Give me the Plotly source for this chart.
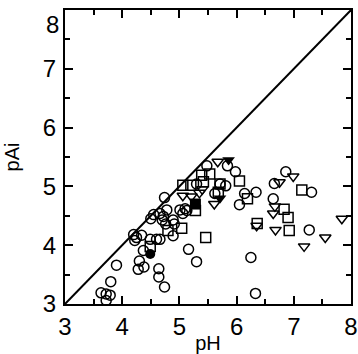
import plotly.graph_objects as go

# open circles
circ_x = [3.63, 3.72, 3.79, 3.72, 3.80, 3.90, 4.22, 4.25, 4.34, 4.30, 4.28, 4.38, 4.37, 4.50, 4.49, 4.60,
          4.66, 4.64, 4.64, 4.74, 4.74, 4.66, 4.72, 4.78, 4.70, 4.76, 4.89, 4.91, 4.89, 5.01, 5.06, 5.13,
          5.16, 5.30, 5.30, 5.48, 5.62, 5.71, 5.81, 5.84, 5.98, 6.05, 6.14, 6.25, 6.34, 6.33, 6.64, 6.66,
          6.86, 7.31, 7.27, 4.20, 4.55, 5.10]
circ_y = [3.19, 3.17, 3.15, 3.06, 3.38, 3.66, 4.08, 4.13, 4.17, 3.73, 3.59, 3.63, 3.91, 4.45, 4.10, 4.10,
          4.10, 3.60, 3.46, 3.29, 4.81, 4.54, 4.49, 4.60, 4.43, 4.36, 4.43, 4.36, 4.16, 4.60, 4.54, 4.59,
          3.93, 3.72, 5.04, 5.35, 4.88, 5.04, 5.01, 5.35, 5.25, 4.69, 4.88, 3.79, 4.90, 3.18, 4.79, 5.05,
          5.25, 4.90, 4.26, 4.18, 4.52, 4.62]

# open squares
sq_x = [5.06, 5.20, 5.39, 5.53, 5.42, 5.04, 4.49, 4.80, 5.28, 5.46, 5.71, 6.05, 6.19, 6.36, 6.83, 6.90,
        6.92, 7.14, 5.68]
sq_y = [5.02, 5.02, 5.19, 5.21, 5.08, 4.29, 3.98, 4.25, 4.59, 4.13, 5.04, 5.09, 4.79, 4.37, 4.61, 4.47,
        4.25, 4.94, 4.90]

# open down-triangles
tri_x = [5.06, 5.21, 5.35, 5.67, 5.61, 6.75, 6.99, 6.64, 6.68, 6.35, 7.18, 7.55, 7.84, 6.67, 5.40]
tri_y = [4.84, 4.83, 4.89, 5.42, 4.70, 5.07, 5.17, 4.54, 4.26, 4.33, 3.98, 4.13, 4.45, 4.66, 4.95]

# filled markers
fsq_x = [5.28]
fsq_y = [4.70]
fci_x = [4.49]
fci_y = [3.85]
ftr_x = [5.71, 5.86]
ftr_y = [4.80, 5.45]

line_x = [3, 8]
line_y = [3, 8]

y_tickvals = [3, 4, 5, 6, 7]
y_ticktext = ["3", "4", "5", "6", "7"]
y_top_label = "8"

FONT = "Liberation Sans, Arial"

fig = go.Figure()
fig.add_trace(go.Scatter(x=line_x, y=line_y, mode="lines", line=dict(color="black", width=2), cliponaxis=False))
for xs, ys, sym, sz in [(circ_x, circ_y, "circle-open", 10), (sq_x, sq_y, "square-open", 10),
                        (tri_x, tri_y, "triangle-down-open", 10)]:
    fig.add_trace(go.Scatter(x=xs, y=ys, mode="markers",
                             marker=dict(symbol=sym, size=sz, color="black", line=dict(width=1.5))))
fig.add_trace(go.Scatter(x=fsq_x, y=fsq_y, mode="markers", marker=dict(symbol="square", size=11, color="black")))
fig.add_trace(go.Scatter(x=fci_x, y=fci_y, mode="markers", marker=dict(symbol="circle", size=10, color="black")))
fig.add_trace(go.Scatter(x=ftr_x, y=ftr_y, mode="markers", marker=dict(symbol="triangle-down", size=11, color="black")))

axis_common = dict(
    range=[3, 8], ticks="inside", ticklen=8, tickwidth=1.5, tickcolor="black",
    showline=True, linecolor="black", linewidth=2, mirror="allticks", showgrid=False, zeroline=False,
    tickfont=dict(family=FONT, size=24, color="black"), automargin=False, ticklabeloverflow="allow",
    minor=dict(ticks="inside", ticklen=5, tickwidth=1.5, tickcolor="black", dtick=0.5, tick0=3, showgrid=False),
)
fig.update_layout(
    width=358, height=354, showlegend=False,
    margin=dict(l=65, r=7, t=10, b=50),
    plot_bgcolor="white", paper_bgcolor="white",
    xaxis=dict(axis_common, dtick=1, tick0=3, ticklabelstandoff=0,
               title=dict(text="pH", font=dict(family=FONT, size=20, color="black"), standoff=0)),
    yaxis=dict(axis_common, tickmode="array", tickvals=y_tickvals, ticktext=y_ticktext, ticklabelstandoff=2,
               title=dict(text="pAi", font=dict(family=FONT, size=20, color="black"), standoff=18)),
    annotations=[dict(text=y_top_label, xref="paper", yref="y", x=0, y=8, xanchor="right", yanchor="top",
                      xshift=-4, yshift=1, showarrow=False, font=dict(family=FONT, size=24, color="black"))],
)
fig.write_html("out.html", config={"displayModeBar": False},
               post_script="document.body.style.margin='0';document.body.style.overflow='hidden';")
